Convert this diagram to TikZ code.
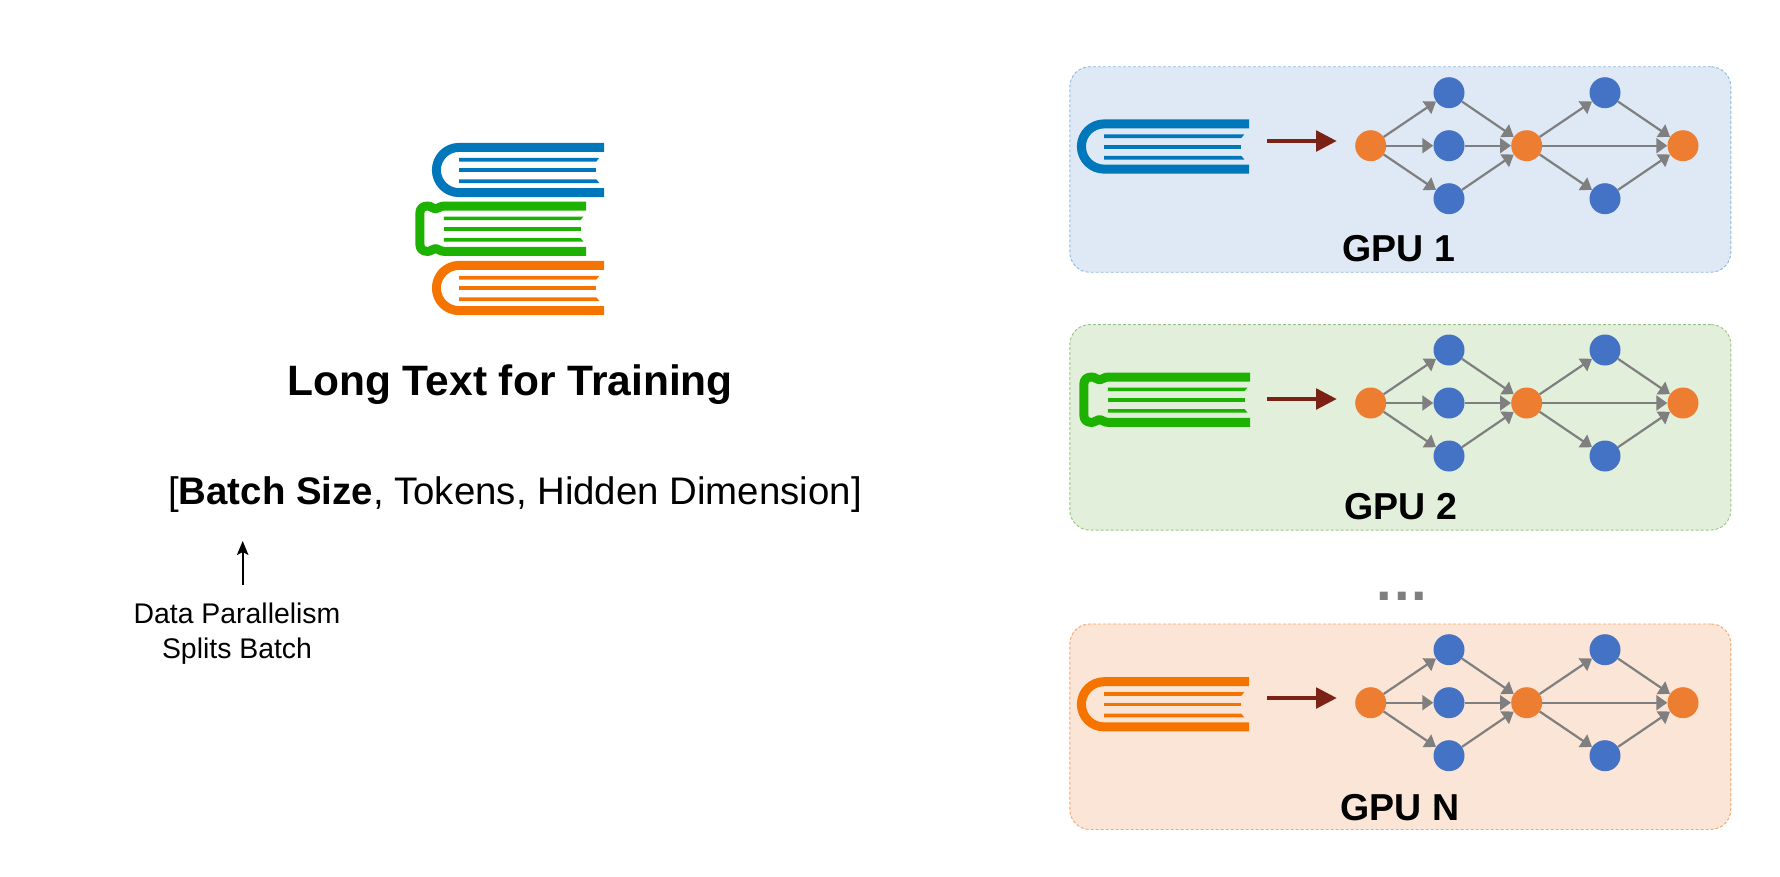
\documentclass[tikz,border=0pt]{standalone}
\usepackage{fontspec}
\setmainfont{Liberation Sans}
\usetikzlibrary{arrows.meta}
\definecolor{bookblue}{HTML}{0077BB}
\definecolor{bookgreen}{HTML}{1DB100}
\definecolor{bookorange}{HTML}{F57400}
\definecolor{panelblue}{HTML}{DEE9F5}
\definecolor{panelgreen}{HTML}{E2EFDA}
\definecolor{panelorange}{HTML}{FBE5D6}
\definecolor{edgeblue}{HTML}{8FB8E0}
\definecolor{edgegreen}{HTML}{9DC384}
\definecolor{edgeorange}{HTML}{F4A46E}
\definecolor{nodeorange}{HTML}{ED7D31}
\definecolor{nodeblue}{HTML}{4472C4}
\definecolor{flowgray}{HTML}{7F7F7F}
\definecolor{feedbrown}{HTML}{7B2115}
\tikzset{
  panelbox/.style={draw=#1,line width=0.9pt,densely dashed,rounded corners=20pt,minimum width=661pt,minimum height=205.5pt,inner sep=0pt},
  orangedot/.style={circle,fill=nodeorange,minimum size=31pt,inner sep=0pt},
  bluedot/.style={circle,fill=nodeblue,minimum size=31pt,inner sep=0pt},
  flow/.style={draw=flowgray,line width=2.2pt,-{Triangle[length=11pt,width=15pt]}},
  feed/.style={draw=feedbrown,line width=3.5pt,-{Triangle[length=20.5pt,width=20.5pt]}},
  gpulabel/.style={font=\bfseries\fontsize{37.5}{37.5}\selectfont,text=black,inner sep=0pt,anchor=base},
  pics/roundbook/.style={code={
    \draw[#1,line width=9pt,rounded corners=22.6pt] (172,4.4)--(4.4,4.4)--(4.4,49.6)--(172,49.6);
    \fill[#1] (27,14.8)--(167.3,14.8)--(164.3,18.5)--(27,18.5)--cycle;
    \fill[#1] (27,25.4)--(163.5,25.4)--(163.5,29.1)--(27,29.1)--cycle;
    \fill[#1] (27,36.3)--(164.3,36.3)--(167.3,40)--(27,40)--cycle;
  }},
  pics/spinebook/.style={code={
    \draw[#1,line width=9pt,line join=round] (170.5,4.3)--(29,4.3) .. controls (24,4.3) and (23,7.2) .. (20,7.2) .. controls (17,7.2) and (16,4.3) .. (12,4.3) .. controls (7,4.3) and (4.3,7) .. (4.3,12) -- (4.3,42) .. controls (4.3,47) and (7,49.7) .. (12,49.7) .. controls (16,49.7) and (17,46.8) .. (20,46.8) .. controls (23,46.8) and (24,49.7) .. (29,49.7) -- (170.5,49.7);
    \fill[#1] (28.3,14.8)--(168,14.8)--(165,18.5)--(28.3,18.5)--cycle;
    \fill[#1] (28.3,25.4)--(165,25.4)--(165,29.1)--(28.3,29.1)--cycle;
    \fill[#1] (28.3,36.3)--(165,36.3)--(168,40)--(28.3,40)--cycle;
  }}
}
\begin{document}
\begin{tikzpicture}[x=1pt,y=-1pt]
\useasboundingbox (0,0) rectangle (1780,876);
% left column
\pic at (432,143) {roundbook=bookblue};
\pic at (415.5,201.7) {spinebook=bookgreen};
\pic at (432,261) {roundbook=bookorange};
\node[font=\bfseries\fontsize{42.5}{42.5}\selectfont,inner sep=0pt,anchor=base] (title) at (510,395) {Long Text for Training};
\node[font=\fontsize{38.4}{38.4}\selectfont,inner sep=0pt,anchor=base] (shape) at (515,504.8) {[\textbf{Batch Size}, Tokens, Hidden Dimension]};
\node[font=\fontsize{28.4}{35}\selectfont,align=center,inner sep=0pt] (dp) at (237,634) {Data Parallelism\\Splits Batch};
\coordinate (dptip) at (242.7,541);
\coordinate (dptail) at (242.7,585);
\draw[black,line width=1.6pt,-{Stealth[length=14pt,width=11.5pt,inset=3pt]}] (dptail) -- (dptip);
% panels
\foreach \pid/\py/\pf/\pe/\lab/\lx/\ly in {1/169.5/panelblue/edgeblue/GPU 1/1399/261, 2/427.3/panelgreen/edgegreen/GPU 2/1400.7/519.3, 3/726.7/panelorange/edgeorange/GPU N/1400/820}{
  \node[panelbox=\pe,fill=\pf] (panel\pid) at (1400.3,\py) {};
  \node[gpulabel] (label\pid) at (\lx,\ly) {\lab};
}
\pic at (1077,119.5) {roundbook=bookblue};
\pic at (1079.5,372.7) {spinebook=bookgreen};
\pic at (1077,677.3) {roundbook=bookorange};
\foreach \pid/\ny/\ay in {1/145.7/141, 2/403/399, 3/702.7/698}{
  \pgfmathsetmacro{\nt}{\ny-53}
  \pgfmathsetmacro{\nb}{\ny+53}
  \node[orangedot] (a\pid) at (1370.7,\ny) {};
  \node[bluedot] (b\pid) at (1449,\nt) {};
  \node[bluedot] (c\pid) at (1449,\ny) {};
  \node[bluedot] (d\pid) at (1449,\nb) {};
  \node[orangedot] (e\pid) at (1526.7,\ny) {};
  \node[bluedot] (f\pid) at (1605,\nt) {};
  \node[bluedot] (g\pid) at (1605,\nb) {};
  \node[orangedot] (h\pid) at (1683,\ny) {};
  \draw[flow] (a\pid) -- (b\pid);
  \draw[flow] (a\pid) -- (c\pid);
  \draw[flow] (a\pid) -- (d\pid);
  \draw[flow] (b\pid) -- (e\pid);
  \draw[flow] (c\pid) -- (e\pid);
  \draw[flow] (d\pid) -- (e\pid);
  \draw[flow] (e\pid) -- (f\pid);
  \draw[flow] (e\pid) -- (g\pid);
  \draw[flow] (e\pid) -- (h\pid);
  \draw[flow] (f\pid) -- (h\pid);
  \draw[flow] (g\pid) -- (h\pid);
  \coordinate (from\pid) at (1267.3,\ay);
  \coordinate (to\pid) at (1336.7,\ay);
  \draw[feed] (from\pid) -- (to\pid);
}
\node[font=\bfseries\fontsize{56}{56}\selectfont,text=flowgray,inner sep=0pt,anchor=base] (more) at (1401.8,600.3) {.\kern2.2pt.\kern2.2pt.};
\end{tikzpicture}
\end{document}
